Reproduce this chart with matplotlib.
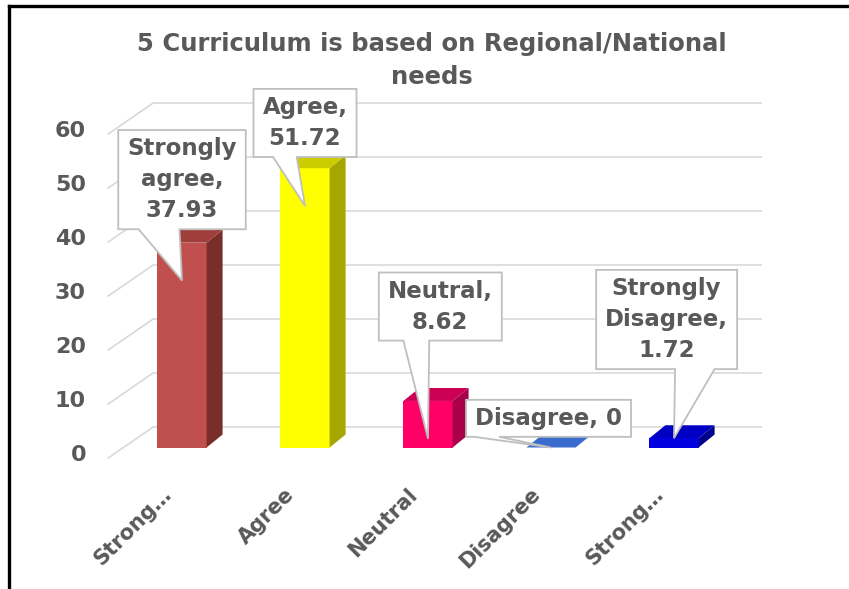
import matplotlib
matplotlib.use("Agg")
import matplotlib.pyplot as plt
from matplotlib.patches import Polygon
from matplotlib.lines import Line2D

# ---------------- data ----------------
categories = ["Strongly agree", "Agree", "Neutral", "Disagree", "Strongly Disagree"]
values = [37.93, 51.72, 8.62, 0, 1.72]
tick_labels = ["Strong…", "Agree", "Neutral", "Disagree", "Strong…"]
callout_names = ["Strongly\nagree", "Agree", "Neutral", "Disagree", "Strongly\nDisagree"]
callout_seps = [",\n", ",\n", ",\n", ", ", ",\n"]
yticks = [0, 10, 20, 30, 40, 50, 60]
title = "5 Curriculum is based on Regional/National\nneeds"

# ---------------- style ----------------
front_colors = ["#C0504D", "#FFFF00", "#FF0066", "#3366CC", "#0000E0"]
side_colors = ["#7A2E2C", "#A6A600", "#A8004A", "#24488F", "#00008B"]
top_colors = ["#A03E3B", "#CCCC00", "#CC0055", "#3A6CD0", "#0000C4"]
TEXT = "#595959"
GRID = "#D9D9D9"
FONT = "DejaVu Sans"

# layout (data units of the axes)
bar_w = 0.40
depth_bar = (0.13, 2.4)      # oblique offset of bar back faces
floor_off = (-0.13, -1.94)   # front floor plane relative to bar plane
wall_off = (0.236, 3.8)      # back wall relative to bar plane
x_left, x_right = -0.47, 4.48
callout_centers = [(0.0, 49.6), (1.0, 60.1), (2.1, 26.1), (2.98, 5.4), (3.94, 23.7)]
pointer_base = [(0.16, 0.48), (0.19, 0.42), (0.20, 0.41), (0.05, 0.20), (0.56, 0.84)]

W, H = 849, 589
fig = plt.figure(figsize=(W / 100, H / 100), dpi=100)
fig.patch.set_facecolor("white")
ax = fig.add_axes([0, 0, 1, 1])
py = 5.4
pxu = 123.0
ax.set_xlim(-182 / pxu, (W - 182) / pxu)
ax.set_ylim(-(H - 447.5) / py, 447.5 / py)
ax.axis("off")

# gridlines (back wall + left diagonals)
for v in yticks:
    ax.plot([x_left + wall_off[0], x_right + wall_off[0]], [v + wall_off[1]] * 2,
            color=GRID, lw=1.2, zorder=1, solid_capstyle="butt")
    ax.plot([x_left + floor_off[0], x_left + wall_off[0]],
            [v + floor_off[1], v + wall_off[1]], color=GRID, lw=1.2, zorder=1)
    ax.text(-0.78, v + floor_off[1] + 0.6, str(v), ha="right", va="center",
            fontsize=16, fontweight="bold", color=TEXT, family=FONT)

# bars
xs = list(range(len(categories)))
ax.bar(xs, values, width=bar_w, color=front_colors, zorder=3, linewidth=0)
dx, dy = depth_bar
for x, v, sc, tc in zip(xs, values, side_colors, top_colors):
    r = x + bar_w / 2
    l = x - bar_w / 2
    ax.add_patch(Polygon([(r, 0), (r + dx, dy), (r + dx, v + dy), (r, v)],
                         closed=True, fc=sc, ec="none", zorder=3))
    ax.add_patch(Polygon([(l, v), (r, v), (r + dx, v + dy), (l + dx, v + dy)],
                         closed=True, fc=tc, ec="none", zorder=3))

# category labels
for x, lab in zip(xs, tick_labels):
    ax.text(x - 0.11, -8.1, lab, rotation=45, rotation_mode="anchor",
            ha="right", va="center", fontsize=15, fontweight="bold",
            color=TEXT, family=FONT)

# title
fig.text(0.509, 0.897, title, ha="center", va="center", fontsize=17.5,
         fontweight="bold", color=TEXT, family=FONT, linespacing=1.45)

# callouts
texts = []
for (cx, cy), name, sep, v in zip(callout_centers, callout_names, callout_seps, values):
    t = ax.text(cx, cy, f"{name}{sep}{v:g}", ha="center", va="center",
                fontsize=16.5, fontweight="bold", color=TEXT, family=FONT,
                linespacing=1.45, zorder=7)
    texts.append(t)
fig.canvas.draw()
renderer = fig.canvas.get_renderer()
inv = ax.transData.inverted()
padx, pady = 9, 7
for x, v, t, (f0, f1) in zip(xs, values, texts, pointer_base):
    bb = t.get_window_extent(renderer)
    x0, y0, x1, y1 = bb.x0 - padx, bb.y0 - pady, bb.x1 + padx, bb.y1 + pady
    tip_y = v - 7 if v > 7 else v
    tx, ty = ax.transData.transform((x, tip_y))
    bl = x0 + f0 * (x1 - x0)
    br = x0 + f1 * (x1 - x0)
    verts = [(x0, y1), (x1, y1), (x1, y0), (br, y0), (tx, ty), (bl, y0), (x0, y0)]
    ax.add_patch(Polygon(inv.transform(verts), closed=True, fc="white",
                         ec="#BFBFBF", lw=1.3, zorder=6, joinstyle="miter"))

# outer frame (top and left edges)
fig.add_artist(Line2D([9 / W, 1], [1 - 6 / H, 1 - 6 / H], color="black", lw=2.4,
                      transform=fig.transFigure))
fig.add_artist(Line2D([9 / W, 9 / W], [0, 1 - 6 / H], color="black", lw=2.4,
                      transform=fig.transFigure))

fig.savefig("out.png", dpi=100, facecolor="white")
